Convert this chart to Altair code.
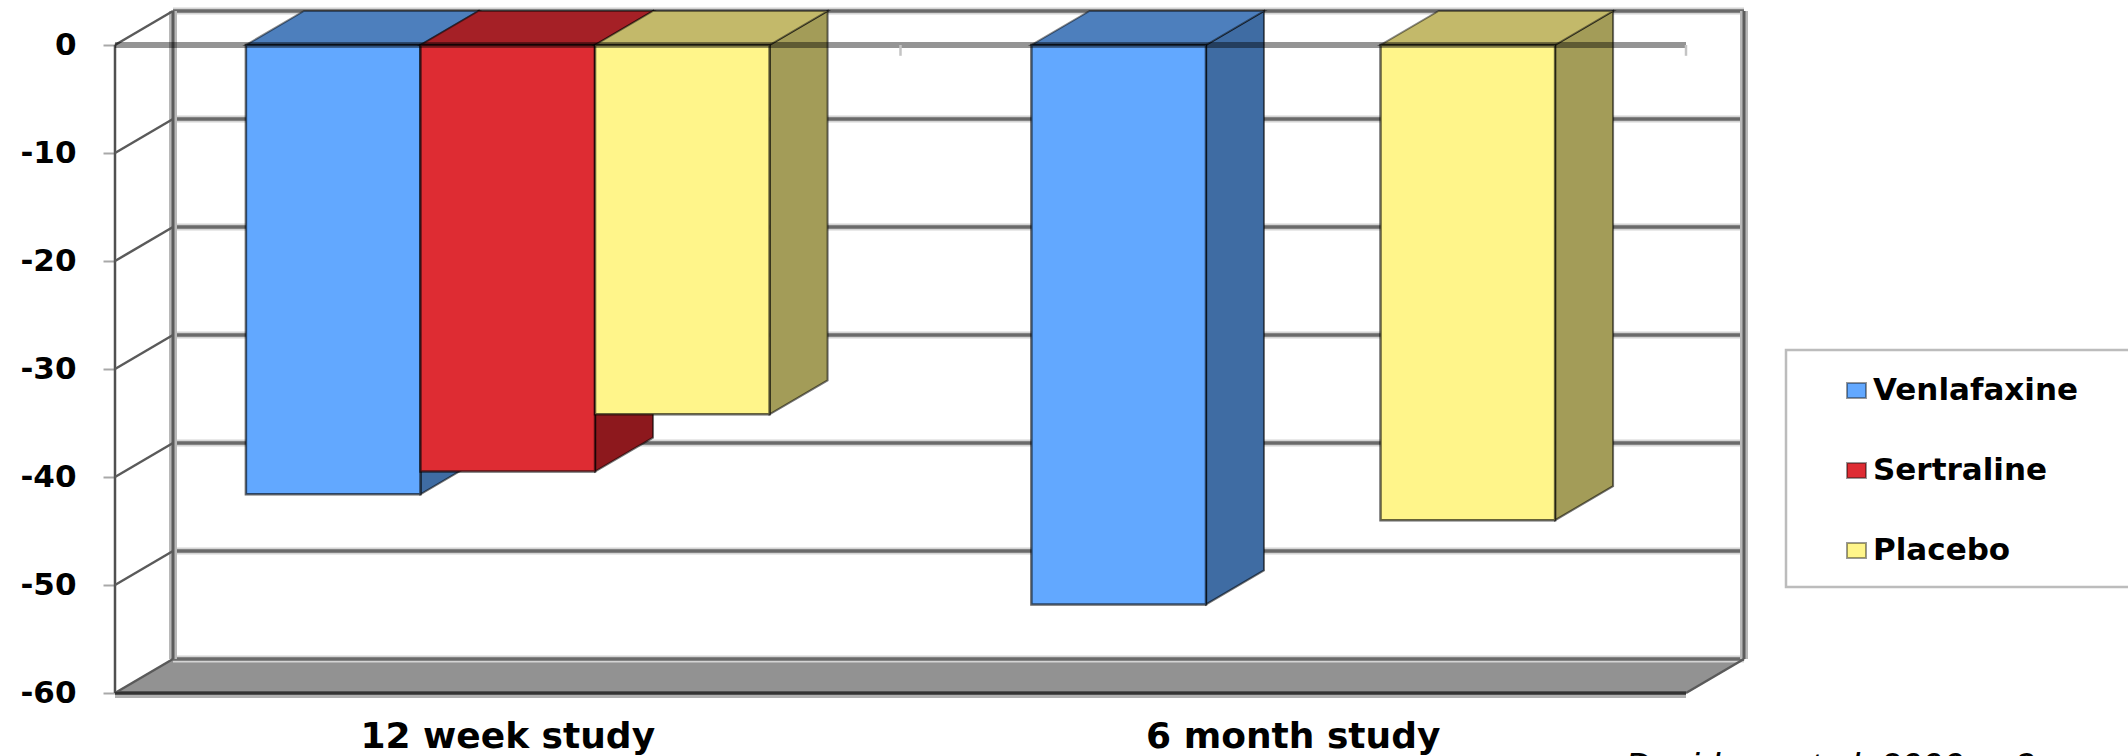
import altair as alt
import pandas as pd

# Chart values
CATEGORIES = ["12 week study", "6 month study"]
SERIES = ["Venlafaxine", "Sertraline", "Placebo"]
VALUES = {
    "Venlafaxine": [-41.6, -51.8],
    "Sertraline": [-39.5, None],
    "Placebo": [-34.2, -44.0],
}
Y_TICKS = [0, -10, -20, -30, -40, -50, -60]
CITATION = "Davidson et al. 2006, p.3"

# Face colours of each extruded column
FRONT = ["#62A8FF", "#DE2C33", "#FFF58A"]
TOP = ["#4D7FBD", "#A52026", "#C3B96A"]
SIDE = ["#3F6CA3", "#8D181D", "#A39C58"]

# Chart geometry, in units of the two scales
CHART_W, CHART_H = 2128, 756
CAT_PX = 785.5
LEFT_PX = 115
UNIT_PX = 10.8
ZERO_PX = 45
BAR_W = 1 / 4.5
DEPTH_X = 58 / CAT_PX
DEPTH_Y = 34 / UNIT_PX
X_MAX = 2.0
Y_MIN = -60

x_scale = alt.Scale(domain=[-LEFT_PX / CAT_PX, (CHART_W - LEFT_PX) / CAT_PX], nice=False, zero=False)
y_scale = alt.Scale(domain=[-(CHART_H - ZERO_PX) / UNIT_PX, ZERO_PX / UNIT_PX], nice=False, zero=False)


def X(field="x"):
    return alt.X(f"{field}:Q", scale=x_scale, axis=None)


def Y(field="y"):
    return alt.Y(f"{field}:Q", scale=y_scale, axis=None)


layers = []

# Floor of the box
floor = pd.DataFrame([
    {"y": Y_MIN, "x": 0, "x2": X_MAX},
    {"y": Y_MIN + DEPTH_Y, "x": DEPTH_X, "x2": X_MAX + DEPTH_X},
])
layers.append(
    alt.Chart(floor).mark_area(orient="horizontal", color="#929292")
    .encode(y=Y(), x=X(), x2="x2:Q")
)

# Back-wall gridlines, with a pale band around each dark line
grid = pd.DataFrame({
    "y": [t + DEPTH_Y for t in Y_TICKS],
    "x": [DEPTH_X] * len(Y_TICKS),
    "x2": [X_MAX + DEPTH_X] * len(Y_TICKS),
})
layers.append(alt.Chart(grid).mark_rule(color="#d4d4d4", strokeWidth=7).encode(x=X(), x2="x2:Q", y=Y()))
layers.append(alt.Chart(grid).mark_rule(color="#6a6a6a", strokeWidth=3.5).encode(x=X(), x2="x2:Q", y=Y()))

# Vertical edges of the walls
edges = pd.DataFrame([
    {"x": DEPTH_X, "y": DEPTH_Y, "y2": Y_MIN + DEPTH_Y},
    {"x": X_MAX + DEPTH_X, "y": DEPTH_Y, "y2": Y_MIN + DEPTH_Y},
])
layers.append(alt.Chart(edges).mark_rule(color="#b8b8b8", strokeWidth=8).encode(x=X(), y=Y(), y2="y2:Q"))
layers.append(alt.Chart(edges).mark_rule(color="#5c5c5c", strokeWidth=3).encode(x=X(), y=Y(), y2="y2:Q"))

# Left-hand front edge carrying the value axis
axis_frame = pd.DataFrame({"x": [0], "y": [0], "y2": [Y_MIN]})
layers.append(
    alt.Chart(axis_frame).mark_rule(color="#505050", strokeWidth=2.5).encode(
        x=X(),
        y=alt.Y(
            "y:Q",
            scale=y_scale,
            axis=alt.Axis(
                values=Y_TICKS,
                offset=-LEFT_PX,
                orient="left",
                title=None,
                grid=False,
                domain=False,
                ticks=True,
                tickSize=12,
                tickColor="#a8a8a8",
                tickWidth=2,
                labelPadding=27,
                labelExpr="'' + datum.value",
                labelFont="DejaVu Sans",
                labelFontWeight="bold",
                labelFontSize=31,
                labelColor="#000000",
                labelOverlap=False,
                labelFlush=False,
            ),
        ),
        y2="y2:Q",
    )
)

# Diagonal edges joining the front ticks to the back wall
diag_rows = []
for t in Y_TICKS:
    diag_rows.append({"x": 0, "y": t, "k": t})
    diag_rows.append({"x": DEPTH_X, "y": t + DEPTH_Y, "k": t})
diag_rows.append({"x": X_MAX, "y": Y_MIN, "k": 1})
diag_rows.append({"x": X_MAX + DEPTH_X, "y": Y_MIN + DEPTH_Y, "k": 1})
layers.append(
    alt.Chart(pd.DataFrame(diag_rows)).mark_line(color="#5a5a5a", strokeWidth=2.5)
    .encode(x=X(), y=Y(), detail="k:N")
)

# Front edge of the floor
floor_front = pd.DataFrame({"x": [0], "x2": [X_MAX], "y": [Y_MIN]})
layers.append(alt.Chart(floor_front).mark_rule(color="#b0b0b0", strokeWidth=7, yOffset=1.5).encode(x=X(), x2="x2:Q", y=Y()))
layers.append(alt.Chart(floor_front).mark_rule(color="#333333", strokeWidth=3.5).encode(x=X(), x2="x2:Q", y=Y()))

# Columns, painted series by series so that each one hides the side of the one before
color = alt.Color(
    "series:N",
    scale=alt.Scale(domain=SERIES, range=FRONT),
    legend=alt.Legend(
        orient="none",
        legendX=1841,
        legendY=375,
        title=None,
        padding=0,
        symbolType="M-1,-0.78H1V0.78H-1Z",
        symbolSize=361,
        symbolStrokeColor="#00000066",
        symbolStrokeWidth=2,
        symbolOpacity=1,
        labelFont="DejaVu Sans",
        labelFontWeight="bold",
        labelFontSize=31,
        labelColor="#000000",
        labelOffset=1,
        rowPadding=48,
        labelLimit=400,
    ),
)

for j, name in enumerate(SERIES):
    fronts, sides, tops = [], [], []
    for i, value in enumerate(VALUES[name]):
        if value is None:
            continue
        left = i + 0.5 + (j - 1.5) * BAR_W
        right = left + BAR_W
        fronts.append({"series": name, "x": left, "x2": right, "y": 0, "y2": value})
        sides.append({"bar": i, "x": right, "y": 0, "y2": value})
        sides.append({"bar": i, "x": right + DEPTH_X, "y": DEPTH_Y, "y2": value + DEPTH_Y})
        tops.append({"bar": i, "y": 0, "x": left, "x2": right})
        tops.append({"bar": i, "y": DEPTH_Y, "x": left + DEPTH_X, "x2": right + DEPTH_X})
    layers.append(
        alt.Chart(pd.DataFrame(sides))
        .mark_area(color=SIDE[j], stroke="#000000", strokeOpacity=0.55, strokeWidth=2)
        .encode(x=X(), y=Y(), y2="y2:Q", detail="bar:N")
    )
    layers.append(
        alt.Chart(pd.DataFrame(tops))
        .mark_area(orient="horizontal", color=TOP[j], stroke="#000000", strokeOpacity=0.45, strokeWidth=2)
        .encode(y=Y(), x=X(), x2="x2:Q", detail="bar:N")
    )
    layers.append(
        alt.Chart(pd.DataFrame(fronts))
        .mark_rect(stroke="#000000", strokeOpacity=0.6, strokeWidth=2.5)
        .encode(x=X(), x2="x2:Q", y=Y(), y2="y2:Q", color=color)
    )

# Zero line, translucent, crossing in front of the columns
zero = pd.DataFrame({"x": [0], "x2": [X_MAX], "y": [0]})
layers.append(
    alt.Chart(zero).mark_rule(color="#000000", opacity=0.42, strokeWidth=6).encode(x=X(), x2="x2:Q", y=Y())
)
cat_ticks = pd.DataFrame({"x": [1, 2], "y": [0, 0], "y2": [-1.0, -1.0]})
layers.append(alt.Chart(cat_ticks).mark_rule(color="#c4c4c4", strokeWidth=2.5).encode(x=X(), y=Y(), y2="y2:Q"))

# Category labels
cat_labels = pd.DataFrame({"label": CATEGORIES, "x": [0.5, 1.5], "y": [-65.1, -65.1]})
layers.append(
    alt.Chart(cat_labels)
    .mark_text(font="DejaVu Sans", fontWeight="bold", fontSize=36, color="#000000", align="center", baseline="alphabetic")
    .encode(x=X(), y=Y(), text="label:N")
)

# Source note running off the lower edge
note = pd.DataFrame({"label": [CITATION], "x": [(1625 - LEFT_PX) / CAT_PX], "y": [-(779 - ZERO_PX) / UNIT_PX]})
layers.append(
    alt.Chart(note)
    .mark_text(font="Liberation Sans", fontStyle="italic", fontSize=37, color="#000000", align="left", baseline="alphabetic")
    .encode(x=X(), y=Y(), text="label:N")
)

# Legend frame, open at the right-hand edge
frame = pd.DataFrame({"k": [0]})
layers.append(
    alt.Chart(frame)
    .mark_rect(fill=None, stroke="#bcbcbc", strokeWidth=2.5)
    .encode(x=alt.value(1786), x2=alt.value(2150), y=alt.value(350), y2=alt.value(587))
)

chart = (
    alt.layer(*layers)
    .resolve_axis(y="independent")
    .properties(width=CHART_W, height=CHART_H, padding=0, autosize=alt.AutoSizeParams(type="none"), background="#ffffff")
    .configure_view(stroke=None)
)

chart.save("out.html", embed_options={"renderer": "svg", "actions": False})
